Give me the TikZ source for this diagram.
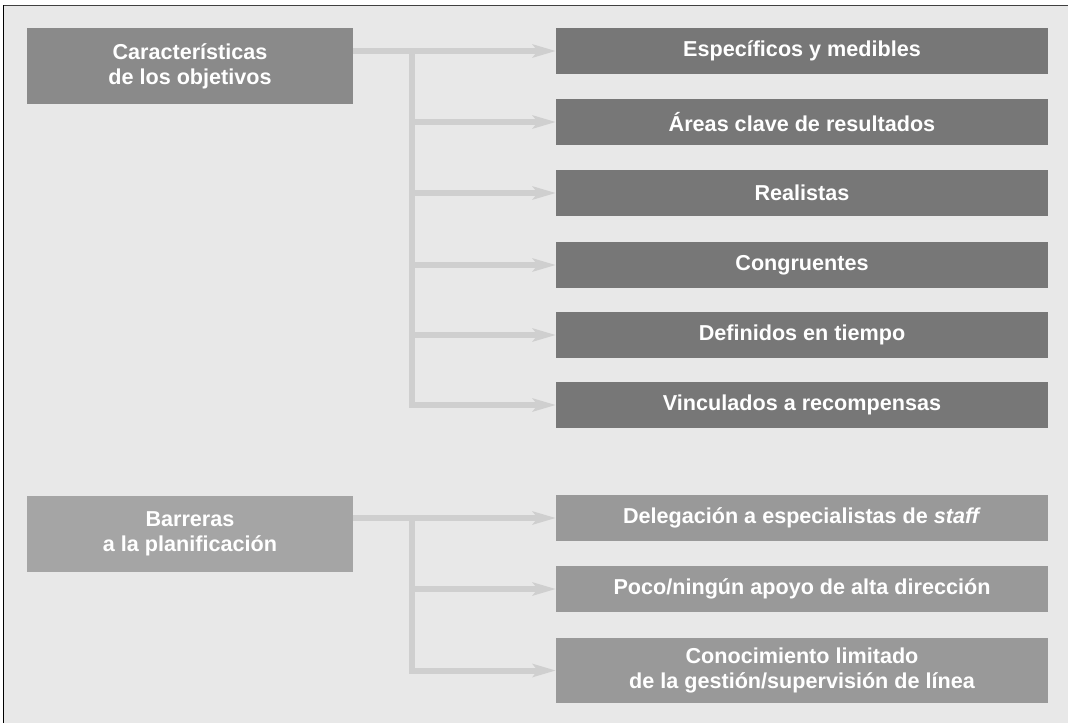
\documentclass[tikz,border=0pt]{standalone}
\usepackage{fontspec}
\setmainfont{Liberation Sans}
\usetikzlibrary{arrows.meta}
\definecolor{fondo}{HTML}{E8E8E8}
\definecolor{flecha}{HTML}{CFCFCF}
\definecolor{grisA}{HTML}{8A8A8A}
\definecolor{grisB}{HTML}{777777}
\definecolor{grisC}{HTML}{A5A5A5}
\definecolor{grisD}{HTML}{999999}
\begin{document}
\begin{tikzpicture}[x=1pt,y=-1pt,
	caja/.style={inner sep=0pt,align=center,text=white,font=\bfseries\fontsize{21.6}{25}\selectfont},
	izq/.style={caja,minimum width=326pt,minimum height=76pt},
	der/.style={caja,minimum width=492pt,minimum height=46pt},
	con/.style={flecha,line width=6pt,line join=miter},
	fl/.style={con,-{Stealth[length=23pt,width=13pt,inset=5pt]}}]
	\useasboundingbox (0,0) rectangle (1068,723);
	\fill[fondo] (3,6) rectangle (1068,723);
	\draw[black!75,line width=1.5pt] (3,5.5) -- (1068,5.5);
	\draw[black,line width=1.5pt] (3.5,5) -- (3.5,723);
	% caracteristicas
	\node[izq,fill=grisA] (car) at (190,66) {Características\\de los objetivos};
	\node[der,fill=grisB] (o1) at (802,51) {Específicos y medibles};
	\node[der,fill=grisB] (o2) at (802,122) {Áreas clave de resultados};
	\node[der,fill=grisB] (o3) at (802,193) {Realistas};
	\node[der,fill=grisB] (o4) at (802,265) {Congruentes};
	\node[der,fill=grisB] (o5) at (802,335) {Definidos en tiempo};
	\node[der,fill=grisB] (o6) at (802,405) {Vinculados a recompensas};
	\coordinate (j1) at (412,0);
	\draw[fl] (o1.west -| car.east) -- (o1.west);
	\draw[fl] (j1 |- o1.west) |- (o6.west);
	\draw[fl] (j1 |- o2.west) -- (o2.west);
	\draw[fl] (j1 |- o3.west) -- (o3.west);
	\draw[fl] (j1 |- o4.west) -- (o4.west);
	\draw[fl] (j1 |- o5.west) -- (o5.west);
	% barreras
	\node[izq,fill=grisC] (bar) at (190,534) {Barreras\\a la planificación};
	\node[der,fill=grisD] (b1) at (802,518) {Delegación a especialistas de \textit{staff}};
	\node[der,fill=grisD] (b2) at (802,589) {Poco/ningún apoyo de alta dirección};
	\node[der,fill=grisD,minimum height=65pt] (b3) at (802,670.5) {Conocimiento limitado\\de la gestión/supervisión de línea};
	\draw[fl] (b1.west -| bar.east) -- (b1.west);
	\draw[fl] (j1 |- b1.west) |- (b3.west);
	\draw[fl] (j1 |- b2.west) -- (b2.west);
\end{tikzpicture}
\end{document}
